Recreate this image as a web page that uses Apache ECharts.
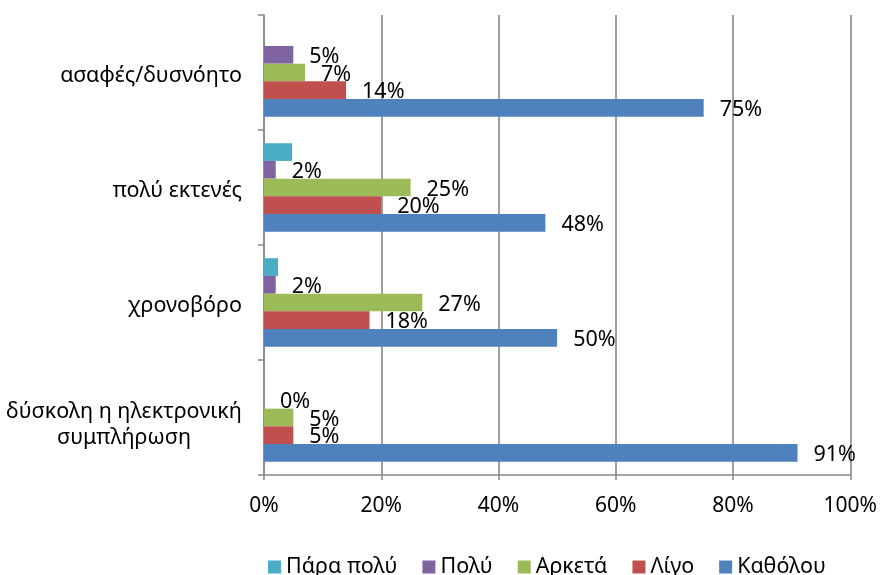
<!DOCTYPE html>
<html>
<head>
<meta charset="utf-8">
<script src="https://cdn.jsdelivr.net/npm/echarts@6/dist/echarts.min.js"></script>
<style>
  html, body { margin: 0; padding: 0; background: #ffffff; }
  #chart { width: 880px; height: 575px; }
</style>
</head>
<body>
<div id="chart"></div>
<script>
// Categories, top to bottom
const categories = ['ασαφές/δυσνόητο', 'πολύ εκτενές', 'χρονοβόρο', 'δύσκολη η ηλεκτρονική\nσυμπλήρωση'];

// Response levels (legend order)
const seriesNames = ['Πάρα πολύ', 'Πολύ', 'Αρκετά', 'Λίγο', 'Καθόλου'];

// Percentages per category, same order as categories
const paraPoly = [null, 4.8, 2.4, null];
const poly     = [5, 2, 2, 0];
const arketa   = [7, 25, 27, 5];
const ligo     = [14, 20, 18, 5];
const katholou = [75, 48, 50, 91];

// Tick labels of the value axis
const xTicks = [0, 20, 40, 60, 80, 100];

const colors = ['#4BACC6', '#8064A2', '#9BBB59', '#C0504D', '#4F81BD'];
const values = [paraPoly, poly, arketa, ligo, katholou];
const showLabel = [false, true, true, true, true];

const font = 'Noto Sans';
const catFontSize = 21.5;
const axisGray = '#878787';

// Width of the longest line of a multi-line category label, so its lines
// can be centred against each other while the block stays right-aligned.
function textWidth(str, size) {
  const ctx = document.createElement('canvas').getContext('2d');
  ctx.font = size + 'px "' + font + '"';
  return Math.ceil(ctx.measureText(str).width);
}
const multiLineWidth = Math.max(...categories
  .filter(c => c.indexOf('\n') >= 0)
  .flatMap(c => c.split('\n'))
  .map(s => textWidth(s, catFontSize)));

const yData = categories.map(c => c.indexOf('\n') >= 0
  ? { value: c, textStyle: { padding: [14, 0, 0, 0] } }
  : { value: c, textStyle: { padding: [6, 0, 0, 0] } });

const chart = echarts.init(document.getElementById('chart'), null, { renderer: 'canvas' });

const series = seriesNames.map((name, i) => ({
  name: name,
  type: 'bar',
  data: values[i],
  barGap: '0%',
  barCategoryGap: '23%',
  itemStyle: { color: colors[i] },
  label: {
    show: showLabel[i],
    position: 'right',
    distance: 16,
    offset: [0, 2],
    fontFamily: font,
    fontSize: 21.5,
    color: '#000',
    formatter: p => p.value + '%'
  }
}));

chart.setOption({
  animation: false,
  color: colors,
  grid: { left: 264, right: 28, top: 15, bottom: 100, containLabel: false },
  legend: {
    data: seriesNames,
    left: 268,
    top: 556,
    padding: 0,
    itemGap: 25,
    itemWidth: 13,
    itemHeight: 13,
    icon: 'rect',
    textStyle: { fontFamily: font, fontSize: 21.5, color: '#000' }
  },
  xAxis: {
    type: 'value',
    min: xTicks[0],
    max: xTicks[xTicks.length - 1],
    interval: xTicks[1] - xTicks[0],
    axisLine: { show: true, lineStyle: { color: axisGray, width: 1.5 } },
    axisTick: { show: true, length: 5, lineStyle: { color: axisGray, width: 1.5 } },
    splitLine: { show: true, lineStyle: { color: axisGray, width: 1.6 } },
    axisLabel: {
      margin: 21,
      fontFamily: font,
      fontSize: 21,
      color: '#000',
      formatter: '{value}%'
    }
  },
  yAxis: {
    type: 'category',
    inverse: true,
    data: yData,
    axisLine: { show: true, lineStyle: { color: axisGray, width: 1.5 } },
    axisTick: { show: true, length: 6, lineStyle: { color: axisGray, width: 1.5 } },
    splitLine: { show: false },
    axisLabel: {
      margin: 22,
      fontFamily: font,
      fontSize: catFontSize,
      color: '#000',
      formatter: v => v.indexOf('\n') >= 0
        ? v.split('\n').map(s => '{c|' + s + '}').join('\n')
        : v,
      rich: {
        c: { width: multiLineWidth, align: 'center', fontFamily: font, fontSize: catFontSize, color: '#000', lineHeight: 26 }
      }
    }
  },
  series: series
});
</script>
</body>
</html>
